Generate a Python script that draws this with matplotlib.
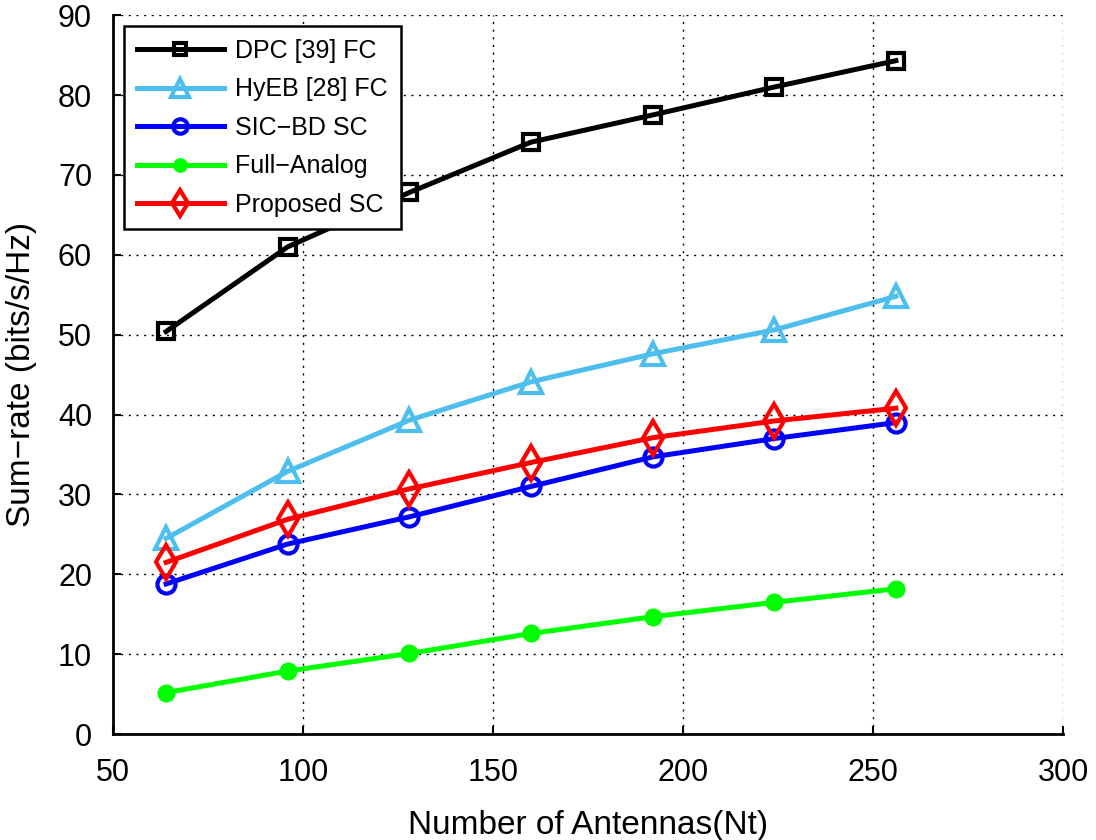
import matplotlib
matplotlib.use('Agg')
import matplotlib.pyplot as plt

# data
antennas = [64, 96, 128, 160, 192, 224, 256]
dpc = [50.4, 61.0, 67.8, 74.1, 77.5, 81.0, 84.3]
hyeb = [24.5, 32.9, 39.3, 44.1, 47.6, 50.6, 54.8]
sicbd = [18.8, 23.8, 27.2, 31.0, 34.7, 37.0, 39.0]
analog = [5.2, 7.9, 10.1, 12.6, 14.7, 16.5, 18.2]
proposed = [21.5, 26.9, 30.7, 34.0, 37.1, 39.2, 40.8]

labels = ["DPC [39] FC", "HyEB [28] FC", "SIC\u2212BD SC", "Full\u2212Analog", "Proposed SC"]

plt.rcParams['font.family'] = ['Liberation Sans', 'DejaVu Sans']

fig = plt.figure(figsize=(10.96, 8.4), dpi=100)
ax = fig.add_axes([0.103, 0.126, 0.867, 0.856])

lw = 3.6
ax.plot(antennas, dpc, '-s', color='black', lw=lw, ms=11, mfc='none', mew=3, label=labels[0])
ax.plot(antennas, hyeb, '-^', color='#4DBEEE', lw=lw, ms=16, mfc='none', mew=3, label=labels[1])
ax.plot(antennas, sicbd, '-o', color='#0000FF', lw=lw, ms=13, mfc='none', mew=3, label=labels[2])
ax.plot(antennas, analog, '-o', color='#00FF00', lw=lw, ms=12, mfc='#00FF00', mew=1, label=labels[3])
ax.plot(antennas, proposed, '-d', color='#FF0000', lw=lw, ms=17, mfc='none', mew=3, label=labels[4])

ax.set_xlim(50, 300)
ax.set_ylim(0, 90)
ax.set_xticks(range(50, 301, 50))
ax.set_yticks(range(0, 91, 10))
ax.grid(True, linestyle=(0, (1.5, 4)), color='black', lw=1)

ax.spines['top'].set_visible(False)
ax.spines['right'].set_visible(False)
ax.spines['left'].set_linewidth(2)
ax.spines['bottom'].set_linewidth(2)
ax.tick_params(axis='x', direction='in', length=6, width=1.5, labelsize=22, pad=17)
ax.tick_params(axis='y', direction='in', length=6, width=1.5, labelsize=22, pad=15)

ax.set_xlabel("Number of Antennas(Nt)", fontsize=24, labelpad=16)
ax.set_ylabel("Sum\u2212rate (bits/s/Hz)", fontsize=24, labelpad=15)

leg = ax.legend(loc='upper left', fontsize=18, fancybox=False, edgecolor='black',
                framealpha=1, borderaxespad=0.45, handlelength=3.5, handletextpad=0.45,
                labelspacing=0.58, markerscale=0.8, borderpad=0.5)
leg.get_frame().set_linewidth(1.8)

plt.savefig("out.png", dpi=100)
